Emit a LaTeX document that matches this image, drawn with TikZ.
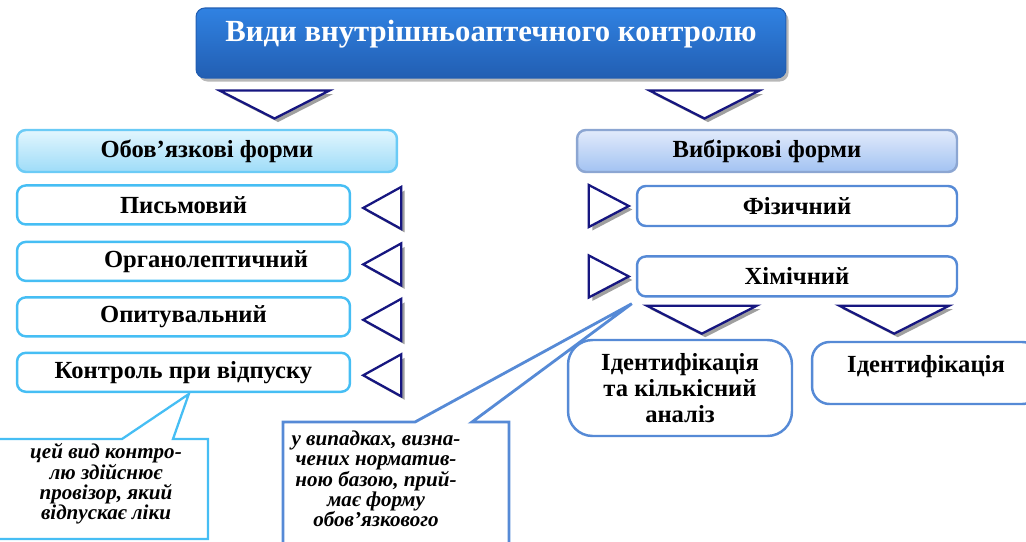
\documentclass[tikz,border=0pt]{standalone}
\usepackage{fontspec}
\setmainfont{Liberation Serif}
\usetikzlibrary{positioning, calc, shadows}
\definecolor{titletop}{RGB}{48,130,226}
\definecolor{titlebot}{RGB}{34,94,178}
\definecolor{skyline}{RGB}{70,190,244}
\definecolor{skytop}{RGB}{226,246,254}
\definecolor{skybot}{RGB}{158,220,248}
\definecolor{lavtop}{RGB}{226,235,251}
\definecolor{lavbot}{RGB}{162,194,242}
\definecolor{lavline}{RGB}{140,166,210}
\definecolor{midblue}{RGB}{86,138,214}
\definecolor{trinavy}{RGB}{22,22,128}

\begin{document}
\begin{tikzpicture}[x=0.02cm, y=-0.02cm, node distance=0.28cm,
    title/.style={rectangle, rounded corners=5pt, top color=titletop, bottom color=titlebot,
        draw=titlebot, line width=0.6pt, minimum width=11.8cm, minimum height=1.4cm,
        text depth=0.5cm, font=\fontsize{17.5}{20}\selectfont\bfseries, text=white,
        drop shadow={shadow xshift=1.5pt, shadow yshift=-2pt, fill=gray!70, opacity=0.8}},
    head/.style={rectangle, rounded corners=5pt, line width=1.4pt, minimum width=7.6cm,
        minimum height=0.84cm, font=\fontsize{14}{17}\selectfont\bfseries},
    leftitem/.style={rectangle, rounded corners=5pt, draw=skyline, line width=1.4pt, fill=white,
        minimum width=6.66cm, minimum height=0.78cm, font=\fontsize{14}{17}\selectfont\bfseries},
    rightitem/.style={rectangle, rounded corners=5pt, draw=midblue, line width=1.4pt, fill=white,
        minimum width=6.4cm, minimum height=0.8cm, font=\fontsize{14}{17}\selectfont\bfseries},
    tri/.style={draw=trinavy, line width=1.3pt, fill=white,
        drop shadow={shadow xshift=2pt, shadow yshift=-2pt, fill=gray!75, opacity=1}},
    note/.style={align=center, font=\fontsize{12}{11.6}\selectfont\bfseries\itshape}]

    \useasboundingbox (0,0) rectangle (1026,541);

    % top block
    \node[title] (vydy) at (491,43) {Види внутрішньоаптечного контролю};
    \draw[tri] ($(vydy.south west)+(79,40)$) -- ++(-55,-28) -- ++(110,0) -- cycle;
    \draw[tri] ($(vydy.south east)+(-82,40)$) -- ++(-55,-28) -- ++(110,0) -- cycle;

    % obligatory forms
    \node[head, draw=skyline!80, top color=skytop, bottom color=skybot] (oboviaz) at (207,151) {Обов’язкові форми};
    \node[leftitem, below=0.22cm of oboviaz.south west, anchor=north west] (pysm) {Письмовий};
    \node[leftitem, below=0.3cm of pysm] (orhano) {\hspace{0.9cm}Органолептичний};
    \node[leftitem, below=0.28cm of orhano] (opyt) {Опитувальний};
    \node[leftitem, below=0.28cm of opyt] (vidpusk) {Контроль при відпуску};
    \foreach \item in {pysm, orhano, opyt, vidpusk}
        \draw[tri] ($(\item.east)+(12,3)$) -- ++(38,-21) -- ++(0,42) -- cycle;

    % selective forms
    \node[head, draw=lavline, top color=lavtop, bottom color=lavbot] (vybir) at (767,151) {Вибіркові форми};
    \node[rightitem] (fiz) at (797,206) {Фізичний};
    \node[rightitem, below=0.56cm of fiz] (khim) {Хімічний};
    \foreach \item in {fiz, khim}
        \draw[tri] ($(\item.west)+(-7,0)$) -- ++(-40,-21) -- ++(0,42) -- cycle;
    \draw[tri] ($(khim.south west)+(66,36)$) -- ++(-55,-28) -- ++(110,0) -- cycle;
    \draw[tri] ($(khim.south east)+(-64,36)$) -- ++(-55,-28) -- ++(110,0) -- cycle;

    \node[rightitem, rounded corners=14pt, minimum width=4.48cm, minimum height=1.92cm,
        align=center, font=\fontsize{14}{15}\selectfont\bfseries] (kilk) at (680,388)
        {Ідентифікація\\та кількісний\\аналіз};
    \node[rightitem, rounded corners=10pt, minimum width=4.56cm, minimum height=1.24cm,
        text depth=0.35cm] (ident) at (926,373) {Ідентифікація};

    % callouts
    \coordinate (tipleft) at ($(vidpusk.south west)+(173,1)$);
    \coordinate (tipright) at ($(khim.south west)+(-4,6)$);
    \draw[skyline, line width=1.3pt, fill=white] (-20,439) -- (122,439) -- (tipleft)
        -- (173,439) -- (208,439) -- (208,539) -- (-20,539) -- cycle;
    \node[note] (pryvidp) at (106,484) {цей вид контро-\\лю здійснює\\провізор, який\\відпускає ліки};
    \draw[midblue, line width=1.6pt, fill=white] (283,422) -- (415,422) -- (tipright)
        -- (472,422) -- (509,422) -- (509,580) -- (283,580) -- cycle;
    \node[note] (vypadky) at (376,479) {у випадках, визна-\\чених норматив-\\ною базою, прий-\\має форму\\обов’язкового};
\end{tikzpicture}
\end{document}
